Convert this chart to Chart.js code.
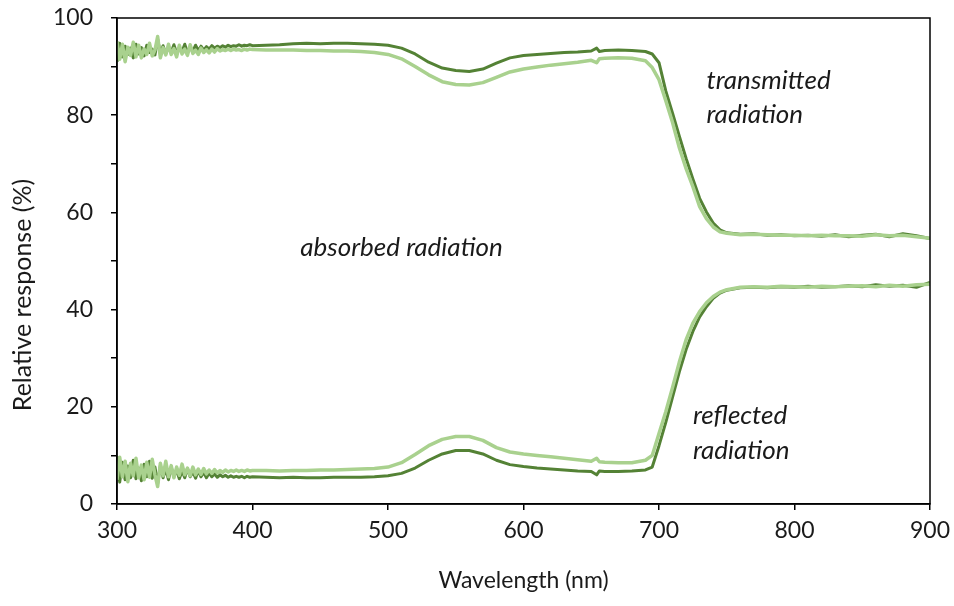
<!DOCTYPE html>
<html lang="en">
<head>
    <meta charset="UTF-8">
    <title>Relative response</title>
    <script src="https://cdn.jsdelivr.net/npm/chart.js"></script>
    <style>
        html, body { margin: 0; padding: 0; background: #fff; }
        #wrap { width: 954px; height: 606px; }
    </style>
</head>
<body>
<div id="wrap"><canvas id="spectraChart"></canvas></div>
<script>
// wavelength (nm), shared by all four curves
const wavelengths = [
    300, 302, 304, 306, 308, 310, 312, 314, 316, 318, 320, 322, 324, 326, 328, 330, 332, 334, 336, 338,
    340, 342, 344, 346, 348, 350, 352, 354, 356, 358, 360, 362, 364, 366, 368, 370, 372, 374, 376, 378,
    380, 382, 384, 386, 388, 390, 392, 394, 396, 398, 400,
    410, 420, 430, 440, 450, 460, 470, 480, 490, 500, 510, 520, 530, 540, 550, 560, 570, 580, 590, 600,
    610, 620, 630, 640, 650, 654, 656, 660, 670, 680, 690, 695, 700, 705, 710, 715, 720, 725, 730, 735,
    740, 745, 750, 760, 770, 780, 790, 800, 810, 820, 830, 840, 850, 860, 870, 880, 890, 900
];

// transmitted radiation (%)
const transmittedDark = [
    91.0, 94.8, 92.0, 94.2, 92.5, 93.8, 91.8, 94.6, 92.6, 93.9, 92.2, 94.4, 92.9, 93.6, 92.4, 95.6, 92.8, 94.3, 92.6, 94.0,
    93.0, 94.5, 92.8, 93.9, 93.1, 94.6, 92.9, 94.0, 93.2, 94.4, 93.3, 94.2, 93.4, 94.1, 93.6, 94.3, 93.8, 94.2, 93.9, 94.3,
    94.0, 94.4, 94.1, 94.3, 94.2, 94.5, 94.2, 94.4, 94.3, 94.5, 94.3,
    94.4, 94.5, 94.7, 94.8, 94.7, 94.8, 94.8, 94.7, 94.6, 94.4, 93.8, 92.6, 90.9, 89.7, 89.2, 89.0, 89.5, 90.7, 91.8, 92.3,
    92.5, 92.7, 92.9, 93.0, 93.2, 93.8, 93.1, 93.3, 93.4, 93.3, 93.1, 92.6, 90.8, 85.0, 80.4, 75.7, 71.1, 66.9, 62.9, 60.1,
    57.8, 56.4, 55.8, 55.5, 55.6, 55.3, 55.4, 55.2, 55.3, 55.1, 55.4, 55.0, 55.3, 55.5, 55.0, 55.6, 55.2, 54.6
];
const transmittedLight = [
    95.2, 91.5, 94.6, 91.0, 94.0, 92.3, 95.0, 92.0, 94.4, 91.8, 93.6, 92.5, 94.8, 92.2, 93.4, 96.2, 91.8, 93.9, 92.4, 94.6,
    92.5, 93.7, 92.0, 94.4, 92.6, 93.6, 92.3, 94.5, 92.7, 93.4, 92.5, 93.8, 92.9, 93.5, 92.8, 93.6, 93.0, 93.7, 93.2, 93.5,
    93.3, 93.6, 93.3, 93.6, 93.4, 93.5, 93.3, 93.6, 93.4, 93.6, 93.5,
    93.4, 93.4, 93.4, 93.3, 93.3, 93.2, 93.2, 93.1, 92.9, 92.5, 91.6, 90.0, 88.3, 86.9, 86.3, 86.2, 86.7, 87.8, 88.9, 89.5,
    89.9, 90.3, 90.6, 90.9, 91.3, 90.8, 91.6, 91.7, 91.8, 91.7, 91.2, 89.8, 87.3, 83.0, 78.5, 73.3, 69.0, 65.3, 61.2, 58.7,
    57.0, 56.0, 55.7, 55.4, 55.5, 55.4, 55.3, 55.3, 55.2, 55.3, 55.2, 55.2, 55.1, 55.4, 55.2, 55.3, 55.0, 54.7
];

// reflected radiation (%)
const reflectedDark = [
    9.8, 4.5, 8.6, 5.0, 7.8, 5.4, 9.0, 5.2, 7.4, 4.8, 8.2, 5.6, 8.8, 5.3, 7.6, 4.2, 7.9, 5.4, 7.2, 5.0,
    7.6, 5.6, 7.0, 5.2, 6.8, 5.4, 7.3, 5.6, 6.6, 5.3, 6.9, 5.6, 6.5, 5.4, 6.4, 5.6, 6.2, 5.5, 6.0, 5.6,
    5.9, 5.5, 5.8, 5.5, 5.7, 5.5, 5.7, 5.4, 5.7, 5.5, 5.6,
    5.5, 5.4, 5.5, 5.4, 5.4, 5.5, 5.5, 5.5, 5.6, 5.8, 6.3, 7.4, 9.0, 10.3, 11.0, 11.0, 10.3, 9.0, 8.1, 7.7,
    7.4, 7.2, 7.0, 6.8, 6.7, 6.0, 6.8, 6.7, 6.7, 6.8, 7.0, 7.6, 12.0, 16.8, 22.0, 27.2, 31.8, 35.5, 38.5, 40.6,
    42.3, 43.4, 44.0, 44.5, 44.6, 44.5, 44.7, 44.6, 44.8, 44.6, 44.7, 44.9, 44.7, 45.1, 44.8, 45.0, 44.6, 45.6
];
const reflectedLight = [
    5.0, 9.6, 5.6, 8.8, 4.6, 8.4, 5.8, 9.4, 5.4, 8.0, 5.0, 8.6, 5.5, 9.2, 6.0, 3.6, 8.4, 5.8, 8.8, 5.6,
    7.9, 5.4, 7.6, 5.9, 8.2, 6.0, 7.4, 5.8, 7.6, 6.0, 7.2, 6.1, 7.3, 6.2, 7.0, 6.3, 7.1, 6.4, 6.9, 6.5,
    7.0, 6.6, 6.9, 6.7, 7.0, 6.7, 6.9, 6.7, 7.0, 6.8, 6.9,
    6.9, 6.8, 6.9, 6.9, 7.0, 7.0, 7.1, 7.2, 7.3, 7.6, 8.5, 10.2, 12.0, 13.3, 13.9, 13.9, 13.1, 11.6, 10.7, 10.3,
    10.0, 9.7, 9.4, 9.1, 8.8, 9.4, 8.7, 8.6, 8.5, 8.5, 9.0, 10.0, 14.5, 19.0, 24.0, 29.2, 33.8, 37.2, 39.6, 41.4,
    42.7, 43.6, 44.1, 44.6, 44.7, 44.6, 44.8, 44.7, 44.6, 44.8, 44.7, 44.8, 44.9, 44.7, 45.0, 44.8, 45.1, 45.2
];

const xTicks = [300, 400, 500, 600, 700, 800, 900];
const yTickLabels = [0, 20, 40, 60, 80, 100];

// italic labels, placed in data units (nm, %)
const notes = [
    { text: "absorbed radiation", x: 510, y: 52.7, align: "center" },
    { text: "transmitted", x: 735, y: 87.2, align: "left" },
    { text: "radiation", x: 735, y: 80.2, align: "left" },
    { text: "reflected", x: 725, y: 18.1, align: "left" },
    { text: "radiation", x: 725, y: 10.9, align: "left" }
];

const DARK = "#548235";
const LIGHT = "#a9d18e";
const TEXT = "#1a1a1a";
const FONT = "Lato, 'Open Sans', sans-serif";

function toPoints(values) {
    return wavelengths.map((w, i) => ({ x: w, y: values[i] }));
}

// box around the plot area
const frame = {
    id: "frame",
    afterDraw(chart) {
        const { ctx, chartArea: a } = chart;
        ctx.save();
        ctx.strokeStyle = "#000";
        ctx.lineWidth = 1.5;
        ctx.strokeRect(a.left, a.top, a.right - a.left, a.bottom - a.top);
        ctx.restore();
    }
};

// annotations + y axis title (the title sits a bit below the axis centre)
const noteText = {
    id: "noteText",
    afterDatasetsDraw(chart) {
        const { ctx, scales } = chart;
        ctx.save();
        ctx.font = "italic 26px " + FONT;
        ctx.fillStyle = TEXT;
        ctx.textBaseline = "middle";
        notes.forEach(n => {
            ctx.textAlign = n.align;
            ctx.fillText(n.text, scales.x.getPixelForValue(n.x), scales.y.getPixelForValue(n.y));
        });

        ctx.font = "25px " + FONT;
        ctx.textAlign = "center";
        ctx.translate(23, scales.y.getPixelForValue(43));
        ctx.rotate(-Math.PI / 2);
        ctx.fillText("Relative response (%)", 0, 0);
        ctx.restore();
    }
};

new Chart(document.getElementById("spectraChart"), {
    type: "line",
    data: {
        datasets: [
            { label: "Transmitted (light)", data: toPoints(transmittedLight), borderColor: LIGHT, borderWidth: 3.5, order: 1 },
            { label: "Reflected (light)", data: toPoints(reflectedLight), borderColor: LIGHT, borderWidth: 3.5, order: 1 },
            { label: "Transmitted (dark)", data: toPoints(transmittedDark), borderColor: DARK, borderWidth: 3, order: 2 },
            { label: "Reflected (dark)", data: toPoints(reflectedDark), borderColor: DARK, borderWidth: 3, order: 2 }
        ]
    },
    options: {
        responsive: true,
        maintainAspectRatio: false,
        animation: false,
        layout: { padding: { left: 0, right: 24, top: 18, bottom: 0 } },
        elements: {
            point: { radius: 0 },
            line: { tension: 0, borderJoinStyle: "round" }
        },
        plugins: {
            legend: { display: false },
            tooltip: { enabled: false }
        },
        scales: {
            x: {
                type: "linear",
                min: 300,
                max: 900,
                afterBuildTicks: s => { s.ticks = xTicks.map(v => ({ value: v })); },
                afterFit: s => { s.height = 102; s.paddingLeft = 0; s.paddingRight = 0; },
                ticks: { color: TEXT, padding: 7, font: { family: FONT, size: 23 } },
                grid: { drawOnChartArea: false, drawTicks: true, tickLength: 6, color: "#000", lineWidth: 1.5 },
                border: { color: "#000", width: 1.5 },
                title: {
                    display: true,
                    text: "Wavelength (nm)",
                    color: TEXT,
                    font: { family: FONT, size: 23 },
                    padding: { top: 0, bottom: 12 }
                }
            },
            y: {
                min: 0,
                max: 100,
                afterFit: s => { s.width = 117; s.paddingTop = 0; s.paddingBottom = 0; },
                ticks: {
                    stepSize: 10,
                    color: TEXT,
                    padding: 18,
                    font: { family: FONT, size: 23 },
                    callback: v => yTickLabels.includes(v) ? v : ""
                },
                grid: { drawOnChartArea: false, drawTicks: true, tickLength: 6, color: "#000", lineWidth: 1.5 },
                border: { color: "#000", width: 1.5 }
            }
        }
    },
    plugins: [frame, noteText]
});
</script>
</body>
</html>
